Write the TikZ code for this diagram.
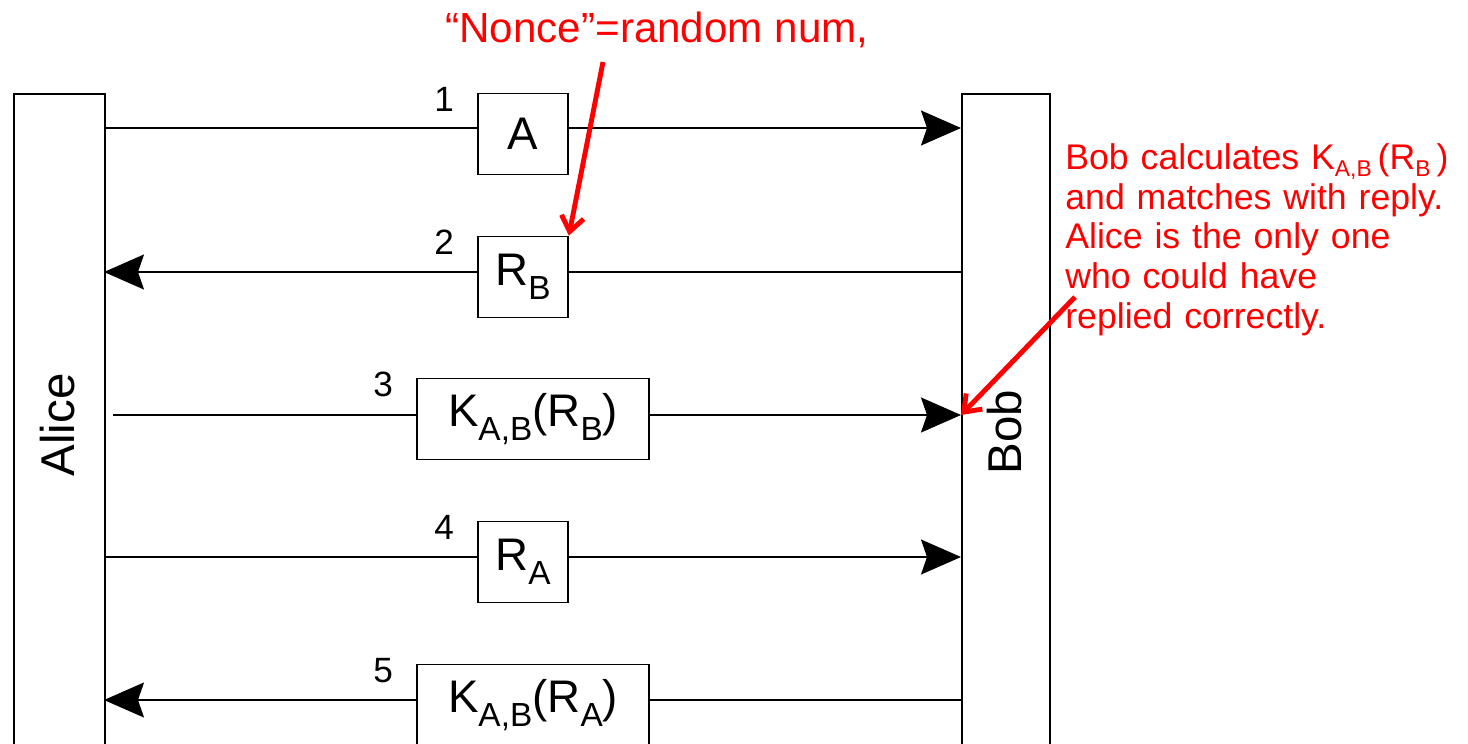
\documentclass[tikz,border=0pt]{standalone}
\usepackage{fontspec}
\setmainfont{Liberation Sans}
\usepackage{xcolor}
\usetikzlibrary{arrows.meta,calc}
\definecolor{notered}{RGB}{255,0,0}
\newcommand{\lowsub}[3][-0.3em]{\raisebox{#1}{\fontsize{#3}{#3}\selectfont #2}}
\tikzset{
    lifeline/.style={
        rectangle,
        draw,
        line width=1pt,
        minimum height=14cm,
        inner sep=0pt,
        anchor=north west
    },
    msgbox/.style={
        rectangle,
        draw,
        line width=1pt,
        minimum height=1.62cm,
        inner sep=0pt,
        font=\fontsize{26}{30}\selectfont
    },
    shortbox/.style={
        msgbox,
        minimum width=1.8cm
    },
    longbox/.style={
        msgbox,
        minimum width=4.64cm
    },
    msgnum/.style={
        inner sep=0pt,
        font=\fontsize{20}{24}\selectfont
    },
    plain/.style={
        line width=1pt
    },
    msg/.style={
        line width=1pt,
        -{Stealth[length=0.8cm,width=0.7cm,inset=0.12cm]}
    },
    note/.style={
        notered,
        line width=2.8pt,
        -{Straight Barb[length=0.3cm,width=0.45cm]}
    },
    notetext/.style={
        notered,
        inner sep=0pt,
        font=\fontsize{20.3}{22.7}\selectfont
    }
}
\begin{document}
\begin{tikzpicture}[x=0.02cm,y=-0.02cm]
    \useasboundingbox (0,0) rectangle (1468,744);
    \clip (0,0) rectangle (1468,744);

    % Parties
    \node[lifeline, minimum width=1.82cm] (alice) at (13,93) {};
    \node[lifeline, minimum width=1.76cm] (bob) at (961,93) {};
    \node[rotate=90, font=\fontsize{27}{30}\selectfont] (alicename) at (58,425) {Alice};
    \node[rotate=90, font=\fontsize{27}{30}\selectfont] (bobname) at (1005,432) {Bob};

    % Message ends
    \coordinate (a1) at (104,128);
    \coordinate (b1) at (961,128);
    \coordinate (a2) at (104,272);
    \coordinate (b2) at (961,272);
    \coordinate (a3) at (113,415);
    \coordinate (b3) at (961,415);
    \coordinate (a4) at (104,557);
    \coordinate (b4) at (961,557);
    \coordinate (a5) at (104,700);
    \coordinate (b5) at (961,700);

    % Messages
    \node[shortbox] (m1) at (523,134) {A};
    \node[shortbox] (m2) at (523,277) {R\lowsub{B}{19}};
    \node[longbox] (m3) at (533,419) {K\lowsub{A,B}{19}(R\lowsub{B}{19})};
    \node[shortbox] (m4) at (523,562) {R\lowsub{A}{19}};
    \node[longbox] (m5) at (533,705) {K\lowsub{A,B}{19}(R\lowsub{A}{19})};

    \node[msgnum] (n1) at ($(m1.north west)+(-33,7)$) {1};
    \node[msgnum] (n2) at ($(m2.north west)+(-33,7)$) {2};
    \node[msgnum] (n3) at ($(m3.north west)+(-33,7)$) {3};
    \node[msgnum] (n4) at ($(m4.north west)+(-33,7)$) {4};
    \node[msgnum] (n5) at ($(m5.north west)+(-33,7)$) {5};

    \draw[plain] (a1) -- (a1 -| m1.west);
    \draw[msg] (a1 -| m1.east) -- (b1);
    \draw[plain] (b2) -- (b2 -| m2.east);
    \draw[msg] (b2 -| m2.west) -- (a2);
    \draw[plain] (a3) -- (a3 -| m3.west);
    \draw[msg] (a3 -| m3.east) -- (b3);
    \draw[plain] (a4) -- (a4 -| m4.west);
    \draw[msg] (a4 -| m4.east) -- (b4);
    \draw[plain] (b5) -- (b5 -| m5.east);
    \draw[msg] (b5 -| m5.west) -- (a5);

    % Notes
    \node[notetext, anchor=base, font=\fontsize{24}{28}\selectfont] (nonce) at (657,42) {“Nonce”=random num,};
    \coordinate (noncetail) at (603,62);
    \draw[note] (noncetail) -- (m2.north east);

    \node[notetext, anchor=north west, text width=10cm, align=left] (bobnote) at (1065,143)
        {Bob calculates K\lowsub[-0.2em]{A,B}{13}\,(R\lowsub[-0.2em]{B}{13}\,)\\
         and matches with reply.\\
         Alice is the only one\\
         who could have\\
         replied correctly.};
    \coordinate (bobtail) at (1075,297);
    \draw[note] (bobtail) -- (b3);
\end{tikzpicture}
\end{document}
